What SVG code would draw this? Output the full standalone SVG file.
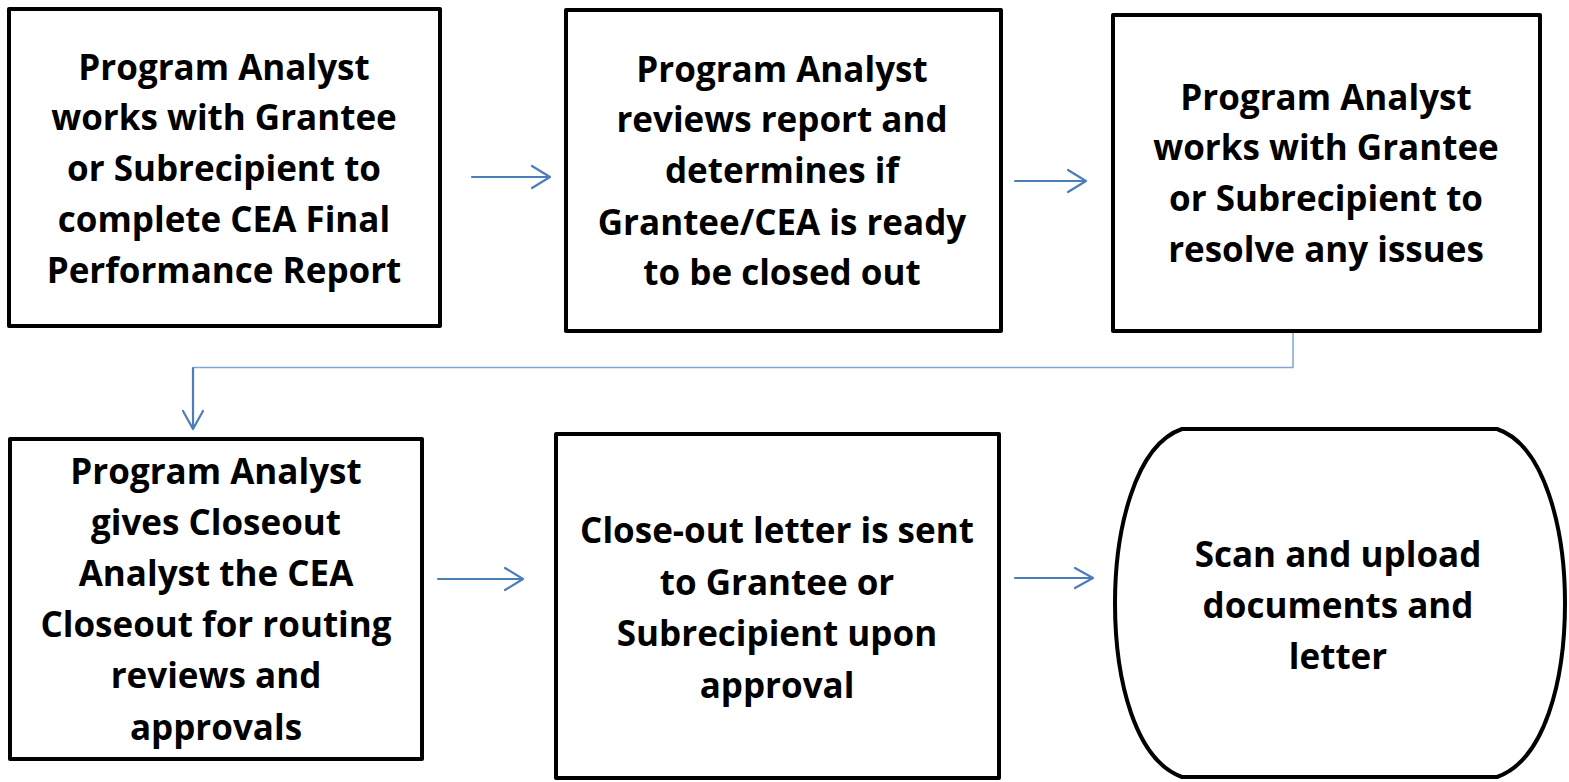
<svg xmlns="http://www.w3.org/2000/svg" width="1569" height="782" viewBox="0 0 1569 782">
<defs>
<style>
.box{fill:#fff;stroke:#000;stroke-width:4;stroke-linejoin:round}
.t{font-family:"Open Sans","Liberation Sans",sans-serif;font-weight:bold;font-size:35px;fill:#000;text-anchor:middle}
.arr{fill:none;stroke:#4a7ebb;stroke-width:2.2;stroke-linecap:round;stroke-linejoin:round}
.thin{fill:none;stroke:#7ea6d8;stroke-width:1.5}
</style>
</defs>
<rect width="1569" height="782" fill="#fff"/>
<g id="connectors">
<path class="arr" d="M472,177 H549 M532,166 L550,177 L532,188"/>
<path class="arr" d="M1015,181 H1085 M1068,170 L1086,181 L1068,192"/>
<path class="thin" d="M1293,333 V367.5 H193"/>
<path class="arr" d="M193,368 V428 M183,411 L193,429 L203,411"/>
<path class="arr" d="M438,579 H522 M505,568 L523,579 L505,590"/>
<path class="arr" d="M1015,578 H1092 M1075,568 L1093,578 L1075,588"/>
</g>
<g id="node1">
<rect class="box" x="9" y="9" width="431" height="317"/>
<text class="t" x="224" y="80">Program Analyst</text>
<text class="t" x="224" y="130">works with Grantee</text>
<text class="t" x="224" y="181">or Subrecipient to</text>
<text class="t" x="224" y="232">complete CEA Final</text>
<text class="t" x="224" y="283">Performance Report</text>
</g>
<g id="node2">
<rect class="box" x="566" y="10" width="435" height="321"/>
<text class="t" x="782" y="82">Program Analyst</text>
<text class="t" x="782" y="132">reviews report and</text>
<text class="t" x="782" y="183">determines if</text>
<text class="t" x="782" y="235">Grantee/CEA is ready</text>
<text class="t" x="782" y="285">to be closed out</text>
</g>
<g id="node3">
<rect class="box" x="1113" y="15" width="427" height="316"/>
<text class="t" x="1326" y="110">Program Analyst</text>
<text class="t" x="1326" y="160">works with Grantee</text>
<text class="t" x="1326" y="211">or Subrecipient to</text>
<text class="t" x="1326" y="262">resolve any issues</text>
</g>
<g id="node4">
<rect class="box" x="10" y="439" width="412" height="320"/>
<text class="t" x="216" y="484">Program Analyst</text>
<text class="t" x="216" y="535">gives Closeout</text>
<text class="t" x="216" y="586">Analyst the CEA</text>
<text class="t" x="216" y="637">Closeout for routing</text>
<text class="t" x="216" y="688">reviews and</text>
<text class="t" x="216" y="740">approvals</text>
</g>
<g id="node5">
<rect class="box" x="556" y="434" width="443" height="344"/>
<text class="t" x="777" y="543">Close-out letter is sent</text>
<text class="t" x="777" y="595">to Grantee or</text>
<text class="t" x="777" y="646">Subrecipient upon</text>
<text class="t" x="777" y="698">approval</text>
</g>
<g id="node6">
<path class="box" d="M1182,429 H1497 C1545,445 1565,530 1565,603 C1565,680 1545,760 1497,777 H1182 C1135,760 1115,680 1115,603 C1115,530 1135,445 1182,429 Z"/>
<text class="t" x="1338" y="567">Scan and upload</text>
<text class="t" x="1338" y="618">documents and</text>
<text class="t" x="1338" y="669">letter</text>
</g>
</svg>
